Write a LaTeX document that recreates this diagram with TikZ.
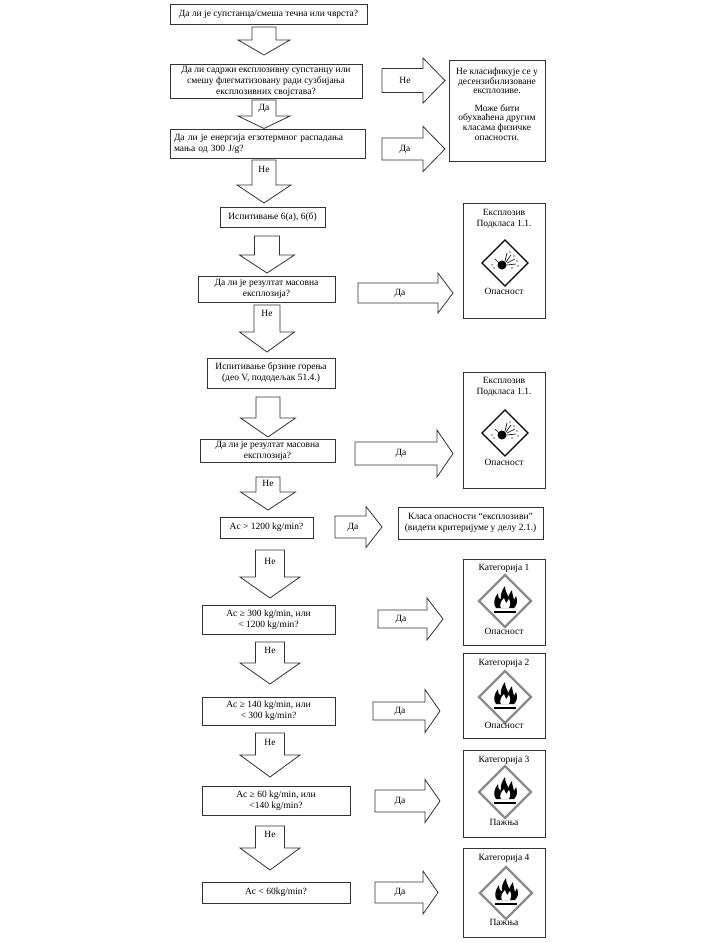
\documentclass[tikz,border=0pt]{standalone}
\usepackage{fontspec}
\setmainfont{Liberation Serif}
\tikzstyle{box} = [draw=black!80, line width=0.8pt, inner sep=1pt, align=center, font={\fontsize{9.5}{11}\selectfont}]
\tikzstyle{blockarrow} = [draw=black!80, line width=0.8pt, fill=white]
\tikzstyle{lbl} = [inner sep=0pt, font={\fontsize{9.5}{11}\selectfont}]
\tikzstyle{hazard} = [draw=black!45, line width=2.4pt, fill=white]
\tikzstyle{bomb} = [draw=black, line width=1.1pt, fill=white]
% down arrow: x, top, neck, tip, shaft half, head half
\newcommand{\arrdown}[6]{\draw[blockarrow] (#1-#5,#2) -- (#1+#5,#2) -- (#1+#5,#3) -- (#1+#6,#3) -- (#1,#4) -- (#1-#6,#3) -- (#1-#5,#3) -- cycle;}
% right arrow: y, left, neck, tip, shaft half, head half
\newcommand{\arrright}[6]{\draw[blockarrow] (#2,#1-#5) -- (#3,#1-#5) -- (#3,#1-#6) -- (#4,#1) -- (#3,#1+#6) -- (#3,#1+#5) -- (#2,#1+#5) -- cycle;}
\newcommand{\flamediamond}[3]{%
  \coordinate (#1) at (#2,#3);
  \begin{scope}[shift={(#2,#3)}]
    \draw[hazard] (0,-26) -- (26,0) -- (0,26) -- (-26,0) -- cycle;
    \fill[black] (-9,7) .. controls (-12,3) and (-11,-3) .. (-7,-8) .. controls (-7,-4) and (-6,-2) .. (-4,-1)
      .. controls (-5,-6) and (-3,-11) .. (0,-15) .. controls (0,-9) and (3,-7) .. (3,-4)
      .. controls (4,-7) and (6,-9) .. (7,-11) .. controls (7,-6) and (9,-4) .. (9,-1)
      .. controls (10,-3) .. (11,-5) .. controls (13,0) and (12,4) .. (9,7) -- cycle;
    \fill[white] (-4,7) .. controls (-6,4) and (-4,0) .. (-1,-3) .. controls (-1,0) and (1,1) .. (2,2)
      .. controls (2,0) and (3,-1) .. (4,-2) .. controls (6,2) and (5,5) .. (4,7) -- cycle;
    \fill[black] (-11,9.5) rectangle (11,11.5);
  \end{scope}}
\newcommand{\bombdiamond}[3]{%
  \coordinate (#1) at (#2,#3);
  \begin{scope}[shift={(#2,#3)}]
    \draw[bomb] (0,-23) -- (23,0) -- (0,23) -- (-23,0) -- cycle;
    \fill[black] (-3,2) circle (4.5);
    \draw[line width=0.6pt] (0,-2) -- (2,-10) (1,-1) -- (6,-8) (2,0) -- (10,-4) (2,2) -- (11,1) (-6,0) -- (-10,-4);
    \fill[black!60] (5,-11) circle (0.8) (9,-7) circle (0.8) (12,-2) circle (0.8) (13,3) circle (0.8)
      (-11,5) circle (0.8) (-13,2) circle (0.8) (7,5) circle (0.8);
  \end{scope}}

\begin{document}
\begin{tikzpicture}[x=1pt,y=-1pt]
  \useasboundingbox (0,0) rectangle (716,943);
  % left column
  \node[box,minimum width=197,minimum height=20](q1) at (268.5,14){Да ли је супстанца/смеша течна или чврста?};
  \node[box,minimum width=192,minimum height=34](q2) at (266,81){Да ли садржи експлозивну супстанцу или\\смешу флегматизовану ради сузбијања\\експлозивних својстава?};
  \node[box,minimum width=195,minimum height=29,text width=187,inner sep=4pt,align=left](q3) at (267.5,143.5){Да ли је енергија егзотермног распадања\\мања од 300 J/g?};
  \node[box,minimum width=105,minimum height=20](test1) at (272.5,217){Испитивање 6(а), 6(б)};
  \node[box,minimum width=137,minimum height=26](q5) at (266.5,289){Да ли је резултат масовна\\експлозија?};
  \node[box,minimum width=128,minimum height=30](test2) at (271,373){Испитивање брзине горења\\(део V, пододељак 51.4.)};
  \node[box,minimum width=135,minimum height=23](q7) at (267.5,450.5){Да ли је резултат масовна\\експлозија?};
  \node[box,minimum width=93,minimum height=21](q8) at (266.5,527.5){Ac > 1200 kg/min?};
  \node[box,minimum width=133,minimum height=29](q9) at (268.5,619.5){Ac ≥ 300 kg/min, или\\< 1200 kg/min?};
  \node[box,minimum width=133,minimum height=28](q10) at (268.5,711){Ac ≥ 140 kg/min, или\\< 300 kg/min?};
  \node[box,minimum width=148,minimum height=29](q11) at (276,800.5){Ac ≥ 60 kg/min, или\\<140 kg/min?};
  \node[box,minimum width=148,minimum height=21](q12) at (276,892.5){Ac < 60kg/min?};
  % down arrows
  \arrdown{264}{27}{40}{55}{12}{26}
  \arrdown{264}{100}{116}{128.5}{12}{26}
  \arrdown{264}{160}{185}{203}{12}{27}
  \arrdown{267}{236}{255}{273}{12.5}{27.5}
  \arrdown{267}{305}{332}{352}{13}{27.5}
  \arrdown{268}{397}{418}{437}{12}{27.5}
  \arrdown{268}{477}{492}{510}{12}{27.5}
  \arrdown{270}{550}{577}{598}{14.5}{30}
  \arrdown{270}{642}{663}{684}{14.5}{30}
  \arrdown{270}{733}{755}{777}{14.5}{30}
  \arrdown{270}{826}{848}{870}{14.5}{30}
  \node[lbl](d2) at (264,108){Да};
  \node[lbl](n3) at (264,169){Не};
  \node[lbl](n5) at (267,313){Не};
  \node[lbl](n7) at (268,483){Не};
  \node[lbl](n8) at (270,561){Не};
  \node[lbl](n9) at (270,650){Не};
  \node[lbl](n10) at (270,742){Не};
  \node[lbl](n11) at (270,834){Не};
  % right arrows
  \arrright{80.5}{382}{423}{445}{12}{22.5}
  \arrright{149}{382}{423}{445}{11}{22.5}
  \arrright{293}{358}{438}{453}{10}{20}
  \arrright{453.5}{355}{437}{453}{11.5}{23.5}
  \arrright{527}{335}{366}{382}{11}{20.5}
  \arrright{619}{378}{427}{443}{9}{21}
  \arrright{711}{373}{425}{440}{9}{21.5}
  \arrright{801}{375}{425}{440}{11}{21.5}
  \arrright{892.5}{375}{423}{438}{10.5}{21.5}
  \node[lbl](r1) at (405,80.5){Не};
  \node[lbl](r2) at (405,149){Да};
  \node[lbl](r3) at (400,293){Да};
  \node[lbl](r4) at (401,453.5){Да};
  \node[lbl](r5) at (353,527){Да};
  \node[lbl](r6) at (401,619){Да};
  \node[lbl](r7) at (400,711){Да};
  \node[lbl](r8) at (400,801){Да};
  \node[lbl](r9) at (400,892.5){Да};
  % right column
  \node[box,minimum width=96,minimum height=101](notcls) at (497,110.5){};
  \node[lbl,align=center,font={\fontsize{9.5}{9.6}\selectfont}](notclstxt) at (497,104){Не класификује се у\\десензибилизоване\\експлозиве.\\[8pt]Може бити\\обухваћена другим\\класама физичке\\опасности.};
  \node[box,minimum width=82,minimum height=115](expl1) at (504,260.5){};
  \node[lbl,align=center](expl1t) at (504,218.5){Експлозив\\Подкласа 1.1.};
  \bombdiamond{expl1d}{505}{263}
  \node[lbl](expl1s) at (504,291){Опасност};
  \node[box,minimum width=82,minimum height=116](expl2) at (504,430){};
  \node[lbl,align=center](expl2t) at (504,387){Експлозив\\Подкласа 1.1.};
  \bombdiamond{expl2d}{505}{433}
  \node[lbl](expl2s) at (504,462){Опасност};
  \node[box,minimum width=145,minimum height=32](klasa) at (470.5,523){Класа опасности “експлозиви”\\(видети критеријуме у делу 2.1.)};
  \node[box,minimum width=82,minimum height=86](cat1) at (504,602){};
  \node[lbl](cat1t) at (504,568){Категорија 1};
  \flamediamond{cat1d}{505}{601}
  \node[lbl](cat1s) at (504,631){Опасност};
  \node[box,minimum width=82,minimum height=85](cat2) at (504,695.5){};
  \node[lbl](cat2t) at (504,663){Категорија 2};
  \flamediamond{cat2d}{505}{697}
  \node[lbl](cat2s) at (504,725){Опасност};
  \node[box,minimum width=82,minimum height=87](cat3) at (504,793.5){};
  \node[lbl](cat3t) at (504,760){Категорија 3};
  \flamediamond{cat3d}{505}{792}
  \node[lbl](cat3s) at (504,822){Пажња};
  \node[box,minimum width=82,minimum height=89](cat4) at (504,892.5){};
  \node[lbl](cat4t) at (504,858){Категорија 4};
  \flamediamond{cat4d}{506}{893}
  \node[lbl](cat4s) at (504,922){Пажња};
\end{tikzpicture}
\end{document}
